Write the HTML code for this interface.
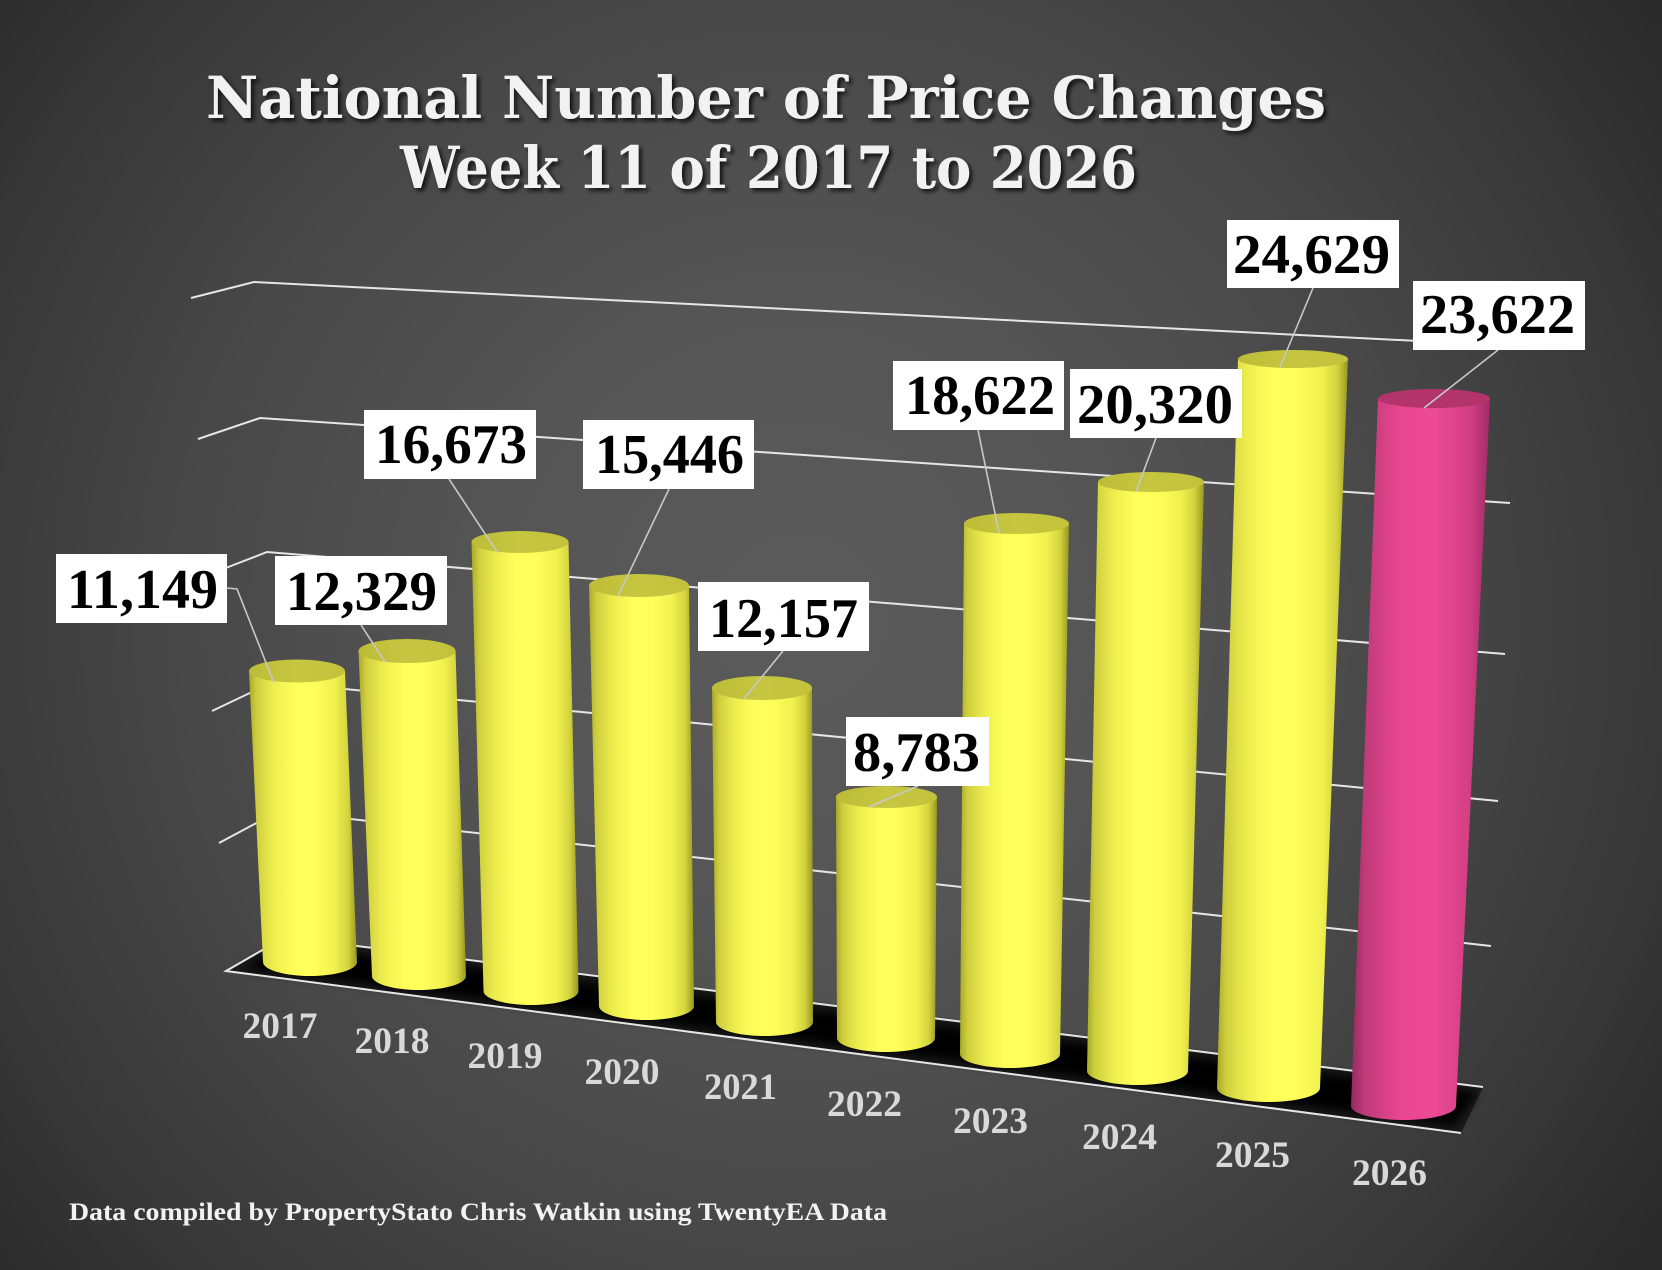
<!DOCTYPE html>
<html>
<head>
<meta charset="utf-8">
<style>
html,body{margin:0;padding:0;background:#3a3a3a;}
svg{display:block;}
</style>
</head>
<body>
<svg width="1662" height="1270" viewBox="0 0 1662 1270" xmlns="http://www.w3.org/2000/svg">
<defs>
  <radialGradient id="bg" gradientUnits="userSpaceOnUse" cx="800" cy="620" r="1050">
    <stop offset="0" stop-color="#5b5b5b"/>
    <stop offset="0.3" stop-color="#555555"/>
    <stop offset="0.6" stop-color="#474747"/>
    <stop offset="0.85" stop-color="#363636"/>
    <stop offset="1" stop-color="#2a2a2a"/>
  </radialGradient>
  <linearGradient id="yb" x1="0" y1="0" x2="1" y2="0">
    <stop offset="0" stop-color="#a8a82a"/>
    <stop offset="0.07" stop-color="#cfcf3e"/>
    <stop offset="0.22" stop-color="#ecec4e"/>
    <stop offset="0.42" stop-color="#ffff5a"/>
    <stop offset="0.6" stop-color="#ffff5c"/>
    <stop offset="0.8" stop-color="#f0f04e"/>
    <stop offset="0.92" stop-color="#d2d23e"/>
    <stop offset="1" stop-color="#969620"/>
  </linearGradient>
  <linearGradient id="yt" x1="0" y1="0" x2="1" y2="0">
    <stop offset="0" stop-color="#bcbc38"/>
    <stop offset="0.5" stop-color="#c6c640"/>
    <stop offset="1" stop-color="#c2c23c"/>
  </linearGradient>
  <linearGradient id="pb" x1="0" y1="0" x2="1" y2="0">
    <stop offset="0" stop-color="#962a5e"/>
    <stop offset="0.1" stop-color="#c03a7a"/>
    <stop offset="0.35" stop-color="#e8468f"/>
    <stop offset="0.6" stop-color="#ec4a95"/>
    <stop offset="0.85" stop-color="#d43f84"/>
    <stop offset="1" stop-color="#9f2c66"/>
  </linearGradient>
  <filter id="ts" x="-5%" y="-20%" width="110%" height="150%">
    <feDropShadow dx="3" dy="3" stdDeviation="2" flood-color="#000" flood-opacity="0.75"/>
  </filter>
  <filter id="bl" x="-20%" y="-50%" width="140%" height="200%">
    <feGaussianBlur stdDeviation="5"/>
  </filter>
</defs>

<rect x="0" y="0" width="1662" height="1270" fill="url(#bg)"/>

<!-- gridlines -->
<g fill="none" stroke="#e6e6e6" stroke-width="2">
  <polyline points="191,298 254,282 1517,346"/>
  <polyline points="198,439 260,418 1510,503"/>
  <polyline points="205,576 267,552 1505,654"/>
  <polyline points="212,711 273,682 1498,801"/>
  <polyline points="219,843 279,811 1491,946"/>
</g>

<!-- floor -->
<polygon points="226,971 285,937 1483,1087 1461,1133" fill="#1b1b1b"/>
<g filter="url(#bl)" fill="#000">
  <polygon points="240,968 290,945 1478,1092 1455,1126"/>
</g>
<line x1="285" y1="937" x2="1483" y2="1087" stroke="#e6e6e6" stroke-width="2"/>
<polyline points="285,937 226,971 1461,1133" fill="none" stroke="#e6e6e6" stroke-width="2"/>

<!-- bars -->
<g>
  <!-- 2017 -->
  <path d="M249,671 L263,962 A47,14 0 0 0 357,962 L345,671 Z" fill="url(#yb)"/>
  <ellipse cx="297" cy="671" rx="48" ry="11.5" fill="url(#yt)"/>
  <!-- 2018 -->
  <path d="M358.5,651 L372,976 A47,14 0 0 0 466,976 L455.5,651 Z" fill="url(#yb)"/>
  <ellipse cx="407" cy="651" rx="48.5" ry="12" fill="url(#yt)"/>
  <!-- 2019 -->
  <path d="M471.5,542 L483.5,991 A47.5,14 0 0 0 578.5,991 L568.5,542 Z" fill="url(#yb)"/>
  <ellipse cx="520" cy="542" rx="48.5" ry="11" fill="url(#yt)"/>
  <!-- 2020 -->
  <path d="M589,585.5 L599,1006 A47.5,14 0 0 0 694,1006 L689,585.5 Z" fill="url(#yb)"/>
  <ellipse cx="639" cy="585.5" rx="50" ry="11.5" fill="url(#yt)"/>
  <!-- 2021 -->
  <path d="M712,688 L716,1022 A48.5,14 0 0 0 813,1022 L812,688 Z" fill="url(#yb)"/>
  <ellipse cx="762" cy="688" rx="50" ry="12" fill="url(#yt)"/>
  <!-- 2022 -->
  <path d="M836,797 L837,1038 A49,14 0 0 0 935,1038 L937,797 Z" fill="url(#yb)"/>
  <ellipse cx="886.5" cy="797" rx="50.5" ry="11" fill="url(#yt)"/>
  <!-- 2023 -->
  <path d="M964,523.5 L960,1054 A50,14 0 0 0 1060,1054 L1069,523.5 Z" fill="url(#yb)"/>
  <ellipse cx="1016.5" cy="523.5" rx="52.5" ry="10.5" fill="url(#yt)"/>
  <!-- 2024 -->
  <path d="M1098,482 L1087,1071 A50.5,14 0 0 0 1188,1071 L1204,482 Z" fill="url(#yb)"/>
  <ellipse cx="1151" cy="482" rx="53" ry="10" fill="url(#yt)"/>
  <!-- 2025 -->
  <path d="M1238,359 L1217,1088 A51.5,14 0 0 0 1320,1088 L1348,359 Z" fill="url(#yb)"/>
  <ellipse cx="1293" cy="359" rx="55" ry="9" fill="url(#yt)"/>
  <!-- 2026 -->
  <path d="M1378,398.5 L1351,1106 A52.5,14 0 0 0 1456,1106 L1490,398.5 Z" fill="url(#pb)"/>
  <ellipse cx="1434" cy="398.5" rx="56" ry="9.5" fill="#b3336b"/>
</g>

<!-- leader lines -->
<g fill="none" stroke="#c8c8c8" stroke-width="1.6">
  <polyline points="227,588 237,589 274,683"/>
  <line x1="361" y1="625" x2="385" y2="662"/>
  <line x1="449" y1="479" x2="497" y2="552"/>
  <line x1="669" y1="489" x2="618" y2="596"/>
  <line x1="783" y1="651" x2="743" y2="700"/>
  <line x1="918" y1="786" x2="869" y2="807"/>
  <line x1="978" y1="430" x2="999" y2="533"/>
  <line x1="1156" y1="438" x2="1136" y2="492"/>
  <line x1="1313" y1="288" x2="1280" y2="367"/>
  <line x1="1498" y1="350" x2="1424" y2="408"/>
</g>

<!-- data labels -->
<g fill="#ffffff">
  <rect x="56" y="554" width="171" height="69"/>
  <rect x="275" y="556" width="172" height="69"/>
  <rect x="364" y="410" width="172" height="69"/>
  <rect x="583" y="420" width="171" height="69"/>
  <rect x="698" y="582" width="171" height="69"/>
  <rect x="846" y="717" width="143" height="69"/>
  <rect x="893" y="361" width="171" height="69"/>
  <rect x="1070" y="369" width="172" height="69"/>
  <rect x="1227" y="220" width="172" height="68"/>
  <rect x="1413" y="281" width="172" height="69"/>
</g>
<g fill="#000000" font-family="'Liberation Serif', serif" font-weight="bold" font-size="56">
  <text x="67" y="608" textLength="151" lengthAdjust="spacingAndGlyphs">11,149</text>
  <text x="286" y="610" textLength="151" lengthAdjust="spacingAndGlyphs">12,329</text>
  <text x="375" y="463" textLength="152" lengthAdjust="spacingAndGlyphs">16,673</text>
  <text x="595" y="473" textLength="149" lengthAdjust="spacingAndGlyphs">15,446</text>
  <text x="709" y="637" textLength="149" lengthAdjust="spacingAndGlyphs">12,157</text>
  <text x="853" y="771" textLength="127" lengthAdjust="spacingAndGlyphs">8,783</text>
  <text x="905" y="414" textLength="150" lengthAdjust="spacingAndGlyphs">18,622</text>
  <text x="1077" y="423" textLength="156" lengthAdjust="spacingAndGlyphs">20,320</text>
  <text x="1233" y="273" textLength="157" lengthAdjust="spacingAndGlyphs">24,629</text>
  <text x="1420" y="333" textLength="155" lengthAdjust="spacingAndGlyphs">23,622</text>
</g>

<!-- year labels -->
<g fill="#d9d9d9" font-family="'Liberation Serif', serif" font-weight="bold" font-size="37" text-anchor="middle">
  <text x="280" y="1038" textLength="75" lengthAdjust="spacingAndGlyphs">2017</text>
  <text x="392" y="1053" textLength="75" lengthAdjust="spacingAndGlyphs">2018</text>
  <text x="505" y="1068" textLength="75" lengthAdjust="spacingAndGlyphs">2019</text>
  <text x="622" y="1084" textLength="75" lengthAdjust="spacingAndGlyphs">2020</text>
  <text x="740.5" y="1099" textLength="73" lengthAdjust="spacingAndGlyphs">2021</text>
  <text x="864.5" y="1116" textLength="75" lengthAdjust="spacingAndGlyphs">2022</text>
  <text x="990.5" y="1133" textLength="75" lengthAdjust="spacingAndGlyphs">2023</text>
  <text x="1119.5" y="1149" textLength="75" lengthAdjust="spacingAndGlyphs">2024</text>
  <text x="1252.5" y="1167" textLength="75" lengthAdjust="spacingAndGlyphs">2025</text>
  <text x="1389.5" y="1185" textLength="75" lengthAdjust="spacingAndGlyphs">2026</text>
</g>

<!-- title -->
<g fill="#f2f2f2" font-family="'DejaVu Serif', 'Liberation Serif', serif" font-weight="bold" font-size="58" filter="url(#ts)">
  <text x="206" y="118" textLength="1120" lengthAdjust="spacingAndGlyphs">National Number of Price Changes</text>
  <text x="400" y="188" textLength="737" lengthAdjust="spacingAndGlyphs">Week 11 of 2017 to 2026</text>
</g>

<!-- footer -->
<text x="69" y="1220" fill="#f2f2f2" font-family="'Liberation Serif', serif" font-weight="bold" font-size="25" textLength="818" lengthAdjust="spacingAndGlyphs">Data compiled by PropertyStato Chris Watkin using TwentyEA Data</text>
</svg>
</body>
</html>
